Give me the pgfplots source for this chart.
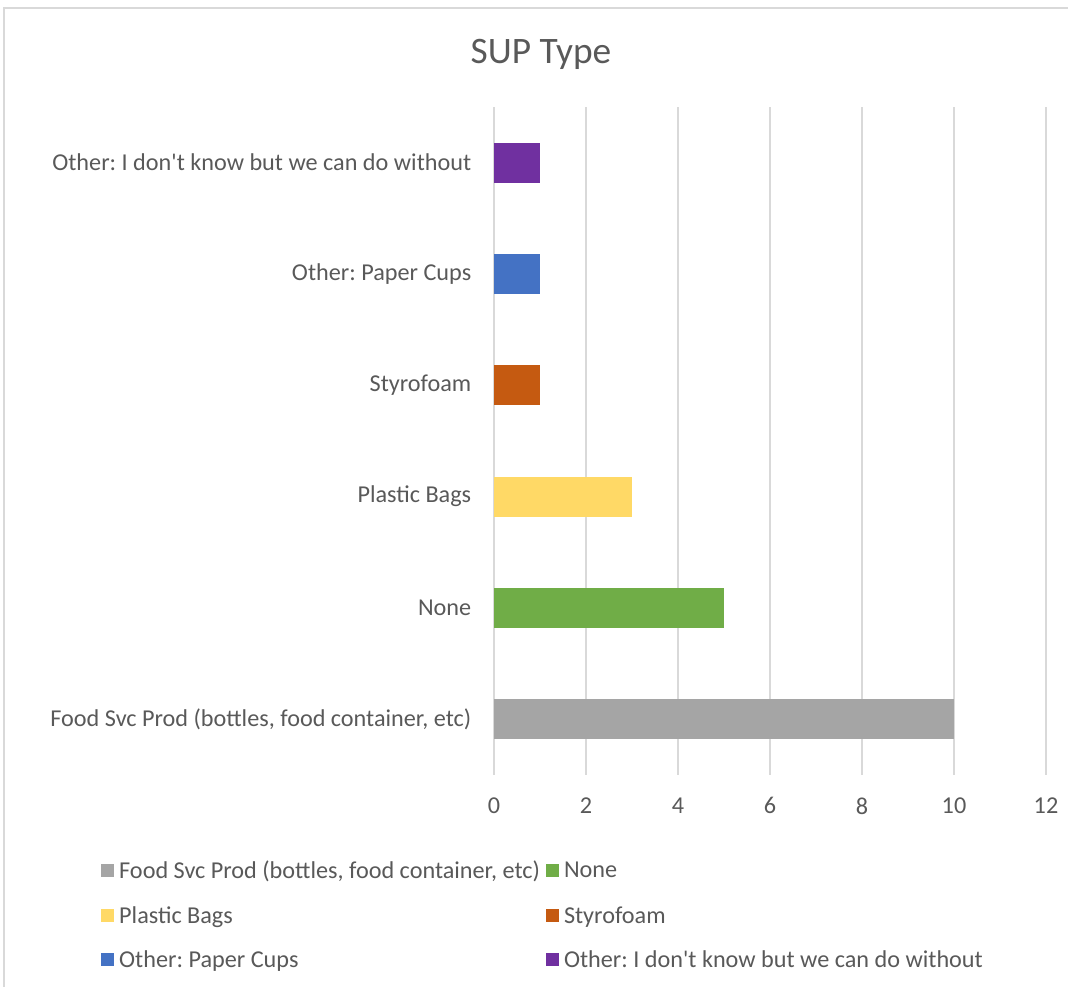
\documentclass[border=0pt]{standalone}
\usepackage{pgfplots}
\pgfplotsset{compat=1.18}
\usepackage{fontspec}
\setmainfont{Carlito}[Ligatures=TeXOff]
\frenchspacing
\definecolor{txt}{HTML}{595959}
\definecolor{gridc}{HTML}{D9D9D9}
\definecolor{cgray}{HTML}{A5A5A5}
\definecolor{cgreen}{HTML}{70AD47}
\definecolor{cyellow}{HTML}{FFD966}
\definecolor{corange}{HTML}{C55A11}
\definecolor{cblue}{HTML}{4472C4}
\definecolor{cpurple}{HTML}{7030A0}
\begin{document}
\begin{tikzpicture}[x=1bp,y=1bp]
\useasboundingbox (0,0) rectangle (1068,987);
\draw[gridc,line width=1.5bp] (4,-5) -- (4,979) -- (1075,979);
\node[txt,font=\fontsize{37.5}{44}\selectfont] at (541,933) {SUP Type};
\begin{axis}[
  at={(494bp,212bp)}, anchor=south west,
  scale only axis, width=552bp, height=668bp,
  xbar, bar width=40bp, bar shift=0pt,
  xmin=0, xmax=12, xtick={0,2,...,12},
  ymin=-0.5, ymax=5.5, ytick={0,...,5},
  yticklabels={{Food Svc Prod (bottles, food container, etc)},None,Plastic Bags,Styrofoam,{Other: Paper Cups},{Other: I don't know but we can do without}},
  xmajorgrids, major grid style={gridc,line width=1.5bp},
  axis line style={draw=none}, tick style={draw=none},
  ticklabel style={txt,font=\fontsize{24.3}{29}\selectfont},
  /pgf/number format/assume math mode=true,
  xticklabel style={yshift=-19bp},
  yticklabel style={xshift=-15bp},
  legend columns=2,
  legend style={draw=none, at={(-393bp,-85bp)}, anchor=north west, font=\fontsize{24.3}{29}\selectfont, text=txt,
    nodes={inner sep=1bp},
    /tikz/every odd column/.append style={column sep=4bp},
    /tikz/every even column/.append style={column sep=5bp},
    row sep=24bp, inner sep=0pt},
  legend cell align=left,
  legend image code/.code={\fill[#1,draw=none] (0bp,-6.5bp) rectangle (13bp,6.5bp);},
]
\addplot[fill=cgray,draw=none] coordinates {(10,0)};
\addplot[fill=cgreen,draw=none] coordinates {(5,1)};
\addplot[fill=cyellow,draw=none] coordinates {(3,2)};
\addplot[fill=corange,draw=none] coordinates {(1,3)};
\addplot[fill=cblue,draw=none] coordinates {(1,4)};
\addplot[fill=cpurple,draw=none] coordinates {(1,5)};
\legend{{Food Svc Prod (bottles, food container, etc)},None,Plastic Bags,Styrofoam,{Other: Paper Cups},{Other: I don't know but we can do without}}
\end{axis}
\end{tikzpicture}
\end{document}
